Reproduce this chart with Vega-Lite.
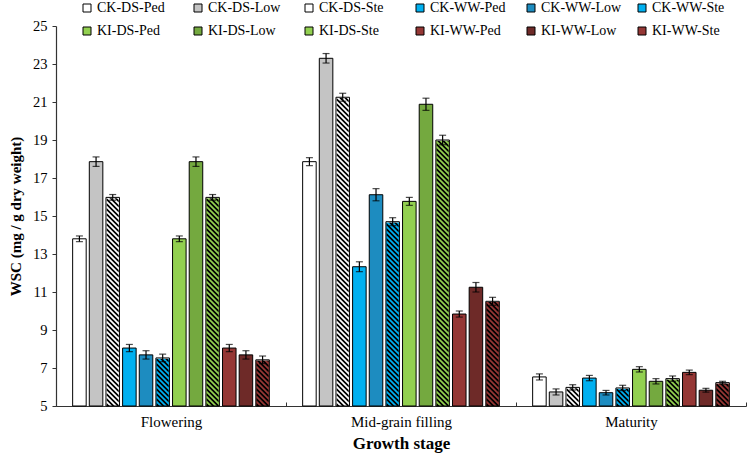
{
  "$schema": "https://vega.github.io/schema/vega-lite/v6.json",
  "width": 690,
  "height": 380,
  "autosize": {"type": "none"},
  "padding": {"left": 56, "top": 26, "right": 1, "bottom": 50},
  "background": "white",
  "config": {
    "view": {"stroke": null},
    "font": "Liberation Serif",
    "axis": {
      "grid": false, "labelFont": "Liberation Serif", "labelColor": "black",
      "titleFont": "Liberation Serif", "titleColor": "black", "titleFontWeight": "bold",
      "domainColor": "#333", "domainWidth": 1.2, "tickColor": "#333", "zindex": 1
    },
    "legend": {"labelFont": "Liberation Serif"}
  },
  "data": {"values": [
    {"stage": "Flowering", "series": "CK-DS-Ped", "value": 13.8, "err": 0.15},
    {"stage": "Flowering", "series": "CK-DS-Low", "value": 17.86, "err": 0.25},
    {"stage": "Flowering", "series": "CK-DS-Ste", "value": 15.98, "err": 0.15},
    {"stage": "Flowering", "series": "CK-WW-Ped", "value": 8.05, "err": 0.19},
    {"stage": "Flowering", "series": "CK-WW-Low", "value": 7.69, "err": 0.22},
    {"stage": "Flowering", "series": "CK-WW-Ste", "value": 7.53, "err": 0.2},
    {"stage": "Flowering", "series": "KI-DS-Ped", "value": 13.8, "err": 0.15},
    {"stage": "Flowering", "series": "KI-DS-Low", "value": 17.86, "err": 0.25},
    {"stage": "Flowering", "series": "KI-DS-Ste", "value": 15.98, "err": 0.15},
    {"stage": "Flowering", "series": "KI-WW-Ped", "value": 8.05, "err": 0.19},
    {"stage": "Flowering", "series": "KI-WW-Low", "value": 7.69, "err": 0.22},
    {"stage": "Flowering", "series": "KI-WW-Ste", "value": 7.43, "err": 0.2},
    {"stage": "Mid-grain filling", "series": "CK-DS-Ped", "value": 17.86, "err": 0.21},
    {"stage": "Mid-grain filling", "series": "CK-DS-Low", "value": 23.3, "err": 0.25},
    {"stage": "Mid-grain filling", "series": "CK-DS-Ste", "value": 21.25, "err": 0.21},
    {"stage": "Mid-grain filling", "series": "CK-WW-Ped", "value": 12.33, "err": 0.26},
    {"stage": "Mid-grain filling", "series": "CK-WW-Low", "value": 16.12, "err": 0.32},
    {"stage": "Mid-grain filling", "series": "CK-WW-Ste", "value": 14.7, "err": 0.21},
    {"stage": "Mid-grain filling", "series": "KI-DS-Ped", "value": 15.77, "err": 0.21},
    {"stage": "Mid-grain filling", "series": "KI-DS-Low", "value": 20.88, "err": 0.32},
    {"stage": "Mid-grain filling", "series": "KI-DS-Ste", "value": 19.0, "err": 0.25},
    {"stage": "Mid-grain filling", "series": "KI-WW-Ped", "value": 9.84, "err": 0.16},
    {"stage": "Mid-grain filling", "series": "KI-WW-Low", "value": 11.25, "err": 0.25},
    {"stage": "Mid-grain filling", "series": "KI-WW-Ste", "value": 10.51, "err": 0.21},
    {"stage": "Maturity", "series": "CK-DS-Ped", "value": 6.53, "err": 0.16},
    {"stage": "Maturity", "series": "CK-DS-Low", "value": 5.74, "err": 0.16},
    {"stage": "Maturity", "series": "CK-DS-Ste", "value": 5.98, "err": 0.14},
    {"stage": "Maturity", "series": "CK-WW-Ped", "value": 6.47, "err": 0.14},
    {"stage": "Maturity", "series": "CK-WW-Low", "value": 5.7, "err": 0.12},
    {"stage": "Maturity", "series": "CK-WW-Ste", "value": 5.95, "err": 0.14},
    {"stage": "Maturity", "series": "KI-DS-Ped", "value": 6.93, "err": 0.14},
    {"stage": "Maturity", "series": "KI-DS-Low", "value": 6.3, "err": 0.14},
    {"stage": "Maturity", "series": "KI-DS-Ste", "value": 6.44, "err": 0.14},
    {"stage": "Maturity", "series": "KI-WW-Ped", "value": 6.77, "err": 0.12},
    {"stage": "Maturity", "series": "KI-WW-Low", "value": 5.83, "err": 0.1},
    {"stage": "Maturity", "series": "KI-WW-Ste", "value": 6.23, "err": 0.07}
  ]},
  "encoding": {
    "x": {
      "field": "stage", "type": "nominal",
      "sort": ["Flowering", "Mid-grain filling", "Maturity"],
      "scale": {"paddingInner": 0, "paddingOuter": 0},
      "title": "Growth stage",
      "axis": {
        "labelAngle": 0, "labelFontSize": 15, "labelPadding": 12,
        "tickBand": "extent", "tickSize": -4,
        "titleFontSize": 17, "titlePadding": 6
      }
    },
    "xOffset": {
      "field": "series", "type": "nominal",
      "sort": ["CK-DS-Ped", "CK-DS-Low", "CK-DS-Ste", "CK-WW-Ped", "CK-WW-Low", "CK-WW-Ste", "KI-DS-Ped", "KI-DS-Low", "KI-DS-Ste", "KI-WW-Ped", "KI-WW-Low", "KI-WW-Ste"],
      "scale": {"paddingInner": 0.1875, "paddingOuter": 1.28125}
    },
    "y": {
      "field": "value", "type": "quantitative",
      "scale": {"domain": [5, 25], "nice": false, "zero": false},
      "title": "WSC (mg / g dry weight)",
      "axis": {
        "values": [5, 7, 9, 11, 13, 15, 17, 19, 21, 23, 25],
        "labelFontSize": 14.5, "labelPadding": 5, "tickSize": 4,
        "titleFontSize": 15, "titlePadding": 9, "titleLimit": 400
      }
    }
  },
  "layer": [
    {
      "mark": {"type": "bar", "strokeWidth": 0},
      "encoding": {
        "y2": {"datum": 5},
        "color": {
          "field": "series", "type": "nominal",
          "sort": ["CK-DS-Ped", "CK-DS-Low", "CK-DS-Ste", "CK-WW-Ped", "CK-WW-Low", "CK-WW-Ste", "KI-DS-Ped", "KI-DS-Low", "KI-DS-Ste", "KI-WW-Ped", "KI-WW-Low", "KI-WW-Ste"],
          "scale": {"range": ["#ffffff", "#c4c4c4", "#ffffff", "#00b0f0", "#1d8cc0", "#00b0f0", "#92d050", "#74a93f", "#92d050", "#953735", "#6e2a28", "#953735"]},
          "legend": {
            "orient": "none", "legendX": 24, "legendY": -25, "columns": 6, "direction": "horizontal",
            "gridAlign": "all", "title": null, "symbolType": "square", "symbolSize": 64,
            "symbolStrokeColor": "black", "symbolStrokeWidth": 1, "symbolOpacity": 1,
            "labelFont": "Liberation Serif", "labelFontSize": 14, "labelColor": "black", "labelOffset": 3,
            "columnPadding": 13, "rowPadding": 9, "zindex": 2
          }
        }
      }
    },
    {
      "transform": [{"filter": "indexof(datum.series, 'Ste') >= 0"}],
      "mark": {
        "type": "point", "filled": true, "color": "black", "opacity": 1, "strokeWidth": 0, "size": 4, "clip": true,
        "shape": "M-6,-203l12,12v2.5l-12,-12zM-6,-198l12,12v2.5l-12,-12zM-6,-193l12,12v2.5l-12,-12zM-6,-188l12,12v2.5l-12,-12zM-6,-183l12,12v2.5l-12,-12zM-6,-178l12,12v2.5l-12,-12zM-6,-173l12,12v2.5l-12,-12zM-6,-168l12,12v2.5l-12,-12zM-6,-163l12,12v2.5l-12,-12zM-6,-158l12,12v2.5l-12,-12zM-6,-153l12,12v2.5l-12,-12zM-6,-148l12,12v2.5l-12,-12zM-6,-143l12,12v2.5l-12,-12zM-6,-138l12,12v2.5l-12,-12zM-6,-133l12,12v2.5l-12,-12zM-6,-128l12,12v2.5l-12,-12zM-6,-123l12,12v2.5l-12,-12zM-6,-118l12,12v2.5l-12,-12zM-6,-113l12,12v2.5l-12,-12zM-6,-108l12,12v2.5l-12,-12zM-6,-103l12,12v2.5l-12,-12zM-6,-98l12,12v2.5l-12,-12zM-6,-93l12,12v2.5l-12,-12zM-6,-88l12,12v2.5l-12,-12zM-6,-83l12,12v2.5l-12,-12zM-6,-78l12,12v2.5l-12,-12zM-6,-73l12,12v2.5l-12,-12zM-6,-68l12,12v2.5l-12,-12zM-6,-63l12,12v2.5l-12,-12zM-6,-58l12,12v2.5l-12,-12zM-6,-53l12,12v2.5l-12,-12zM-6,-48l12,12v2.5l-12,-12zM-6,-43l12,12v2.5l-12,-12zM-6,-38l12,12v2.5l-12,-12zM-6,-33l12,12v2.5l-12,-12zM-6,-28l12,12v2.5l-12,-12zM-6,-23l12,12v2.5l-12,-12zM-6,-18l12,12v2.5l-12,-12zM-6,-13l12,12v2.5l-12,-12zM-6,-8l12,12v2.5l-12,-12zM-6,-3l12,12v2.5l-12,-12zM-6,2l12,12v2.5l-12,-12zM-6,7l12,12v2.5l-12,-12zM-6,12l12,12v2.5l-12,-12zM-6,17l12,12v2.5l-12,-12zM-6,22l12,12v2.5l-12,-12zM-6,27l12,12v2.5l-12,-12zM-6,32l12,12v2.5l-12,-12zM-6,37l12,12v2.5l-12,-12zM-6,42l12,12v2.5l-12,-12zM-6,47l12,12v2.5l-12,-12zM-6,52l12,12v2.5l-12,-12zM-6,57l12,12v2.5l-12,-12zM-6,62l12,12v2.5l-12,-12zM-6,67l12,12v2.5l-12,-12zM-6,72l12,12v2.5l-12,-12zM-6,77l12,12v2.5l-12,-12zM-6,82l12,12v2.5l-12,-12zM-6,87l12,12v2.5l-12,-12zM-6,92l12,12v2.5l-12,-12zM-6,97l12,12v2.5l-12,-12zM-6,102l12,12v2.5l-12,-12zM-6,107l12,12v2.5l-12,-12zM-6,112l12,12v2.5l-12,-12zM-6,117l12,12v2.5l-12,-12zM-6,122l12,12v2.5l-12,-12zM-6,127l12,12v2.5l-12,-12zM-6,132l12,12v2.5l-12,-12zM-6,137l12,12v2.5l-12,-12zM-6,142l12,12v2.5l-12,-12zM-6,147l12,12v2.5l-12,-12zM-6,152l12,12v2.5l-12,-12zM-6,157l12,12v2.5l-12,-12zM-6,162l12,12v2.5l-12,-12zM-6,167l12,12v2.5l-12,-12zM-6,172l12,12v2.5l-12,-12zM-6,177l12,12v2.5l-12,-12zM-6,182l12,12v2.5l-12,-12zM-6,187l12,12v2.5l-12,-12z"
      },
      "encoding": {
        "y": {"datum": 15, "type": "quantitative", "title": "WSC (mg / g dry weight)"}
      }
    },
    {
      "transform": [{"filter": "indexof(datum.series, 'Ste') >= 0"}],
      "mark": {"type": "bar", "color": "white", "stroke": "white", "strokeWidth": 1.5},
      "encoding": {
        "y2": {"datum": 25}
      }
    },
    {
      "mark": {"type": "bar", "fill": "white", "fillOpacity": 0, "stroke": "black", "strokeWidth": 1},
      "encoding": {
        "y2": {"datum": 5}
      }
    },
    {
      "mark": {"type": "errorbar", "ticks": {"size": 7, "thickness": 1.2, "color": "black"}, "rule": {"strokeWidth": 1.2, "color": "black"}},
      "encoding": {
        "yError": {"field": "err"}
      }
    }
  ]
}
